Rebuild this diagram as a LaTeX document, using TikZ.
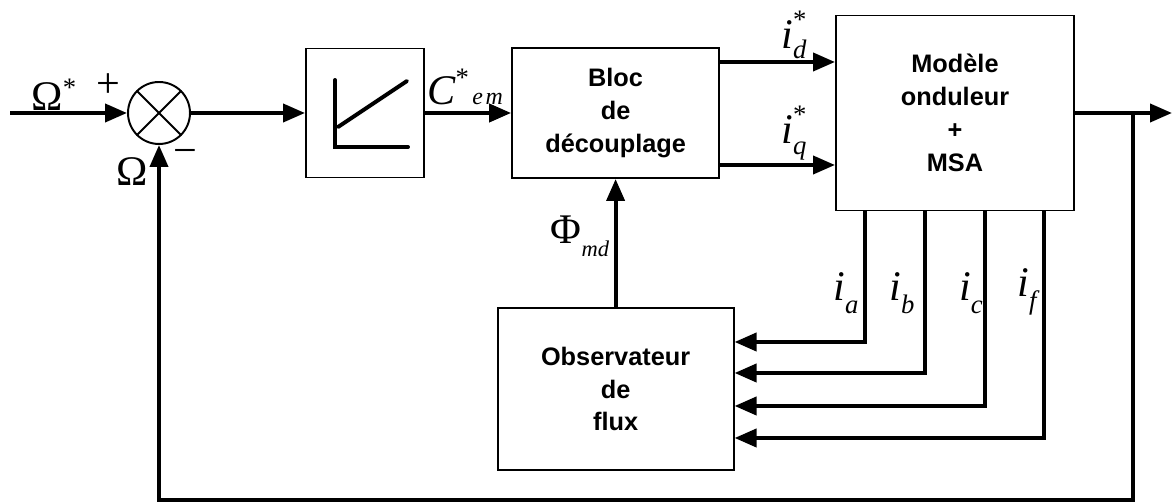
\documentclass[tikz,border=0pt]{standalone}
\usepackage{fontspec}
\setmainfont{Liberation Serif}
\newfontfamily\blocfont{Liberation Sans}
\usetikzlibrary{arrows.meta,positioning}
% base letter, superscript and subscript stacked on its right
\newcommand{\sigsup}[3]{#1\rlap{\raisebox{0.47em}{\fontsize{19}{19}\selectfont #2}}\raisebox{-0.25em}{\fontsize{19}{19}\selectfont\itshape #3}}
\newcommand{\sigsub}[2]{#1\raisebox{-0.3em}{\fontsize{19}{19}\selectfont\itshape #2}}

\begin{document}
\begin{tikzpicture}[
  >={Triangle[length=5.5mm,width=4.5mm]},
  line width=1.4pt,
  block/.style={rectangle, draw=black, line width=1.4pt, align=center, font=\blocfont\bfseries\fontsize{18}{23.4}\selectfont},
  flow/.style={->, draw=black, line width=2.8pt},
  sum/.style={circle, draw=black, line width=1.4pt, minimum size=1.55cm, inner sep=0pt},
  lbl/.style={inner sep=0pt, font=\fontsize{30}{32}\selectfont}
]
  \useasboundingbox (0,2.825) rectangle (29.4,-9.775);
  \node[sum] (sum) at (3.975,0) {};
  \draw (sum.north west) -- (sum.south east);
  \draw (sum.north east) -- (sum.south west);
  \node[block, minimum width=2.95cm, minimum height=3.225cm] (ramp) at (9.125,0) {};
  \node[block, minimum width=5.175cm, minimum height=3.25cm] (decoup) at (15.39,0) {Bloc\\de\\découplage};
  \node[block, minimum width=5.95cm, minimum height=4.875cm] (msa) at (23.875,0) {Modèle\\onduleur\\+\\MSA};
  \node[block, minimum width=5.9cm, minimum height=4.05cm] (obs) at (15.39,-6.9) {Observateur\\de\\flux};
  % ramp inside the first block
  \draw[line width=2.8pt, line cap=round] (8.375,0.825) -- (8.375,-0.85) -- (10.2,-0.85);
  \draw[line width=2.8pt, line cap=round] (8.45,-0.35) -- (10.175,0.8);
  \coordinate (in) at (0.25,0);
  \coordinate (out) at (29.3,0);
  \coordinate (branch) at (28.325,0);
  \coordinate (fb) at (28.325,-9.675);
  % forward path
  \draw[flow] (in) -- (sum);
  \draw[flow] (sum) -- (ramp);
  \draw[flow] (ramp) -- (decoup);
  \draw[flow] ([yshift=1.275cm]decoup.east) -- ([yshift=1.275cm]decoup.east -| msa.west);
  \draw[flow] ([yshift=-1.3cm]decoup.east) -- ([yshift=-1.3cm]decoup.east -| msa.west);
  \draw[flow] (msa) -- (out);
  \draw[flow] (obs) -- (decoup);
  \draw[flow] (branch) -- (fb) -| (sum);
  % measured currents
  \draw[flow] ([xshift=0.75cm]msa.south west) |- ([yshift=1.175cm]obs.east);
  \draw[flow] ([xshift=2.25cm]msa.south west) |- ([yshift=0.4cm]obs.east);
  \draw[flow] ([xshift=3.75cm]msa.south west) |- ([yshift=-0.425cm]obs.east);
  \draw[flow] ([xshift=5.225cm]msa.south west) |- ([yshift=-1.225cm]obs.east);
  % labels
  \node[lbl] (wref) at (1.35,0.45) {Ω\raisebox{0.32em}{\fontsize{19}{19}\selectfont *}};
  \node[lbl] (plus) at (2.7,0.675) {+};
  \node[lbl] (wmes) at (3.3,-1.475) {Ω};
  \node[lbl] (minus) at (4.625,-1.1) {−};
  \node[lbl] (cem) at (11.625,0.65) {\textit{C}\raisebox{0.42em}{\fontsize{19}{19}\selectfont *}\hspace{0.08em}{\fontsize{17}{17}\selectfont\itshape e\hspace{0.12em}m}};
  \node[lbl] (idref) at (19.85,1.95) {\sigsup{\textit{i}}{*}{d}};
  \node[lbl] (iqref) at (19.85,-0.5) {\sigsup{\textit{i}}{*}{q}};
  \node[lbl] (phi) at (14.5,-3.075) {Φ\raisebox{-0.3em}{\fontsize{16}{16}\selectfont\itshape md}};
  \node[lbl] (ia) at (21.15,-4.5) {\sigsub{\textit{i}}{a}};
  \node[lbl] (ib) at (22.55,-4.5) {\sigsub{\textit{i}}{b}};
  \node[lbl] (ic) at (24.275,-4.5) {\sigsub{\textit{i}}{c}};
  \node[lbl] (if) at (25.675,-4.475) {\sigsub{\textit{i}}{f}};
\end{tikzpicture}
\end{document}
